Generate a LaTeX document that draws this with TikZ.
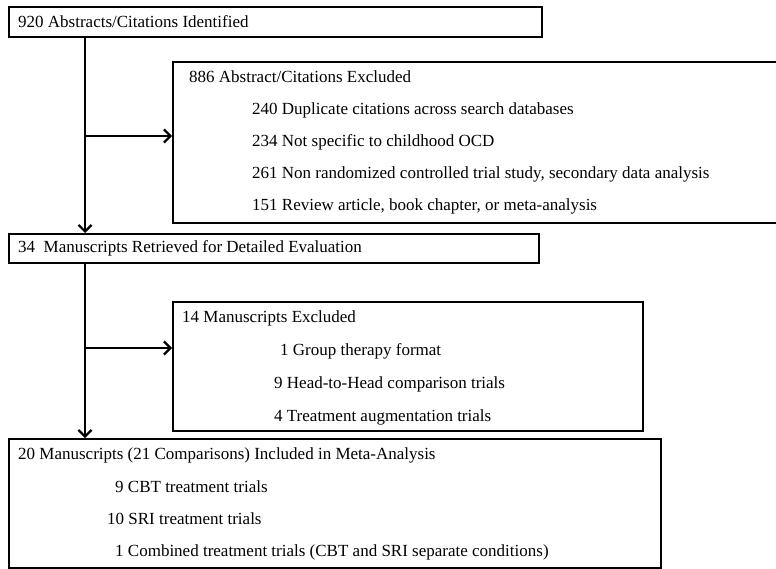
\documentclass[tikz,border=0pt]{standalone}
\usepackage{fontspec}
\setmainfont{Liberation Serif}
\usetikzlibrary{arrows.meta,shadows}
\tikzset{
  flowbox/.style={draw,line width=2pt,fill=white,anchor=north west,inner sep=0pt,
    drop shadow={shadow xshift=1.2pt,shadow yshift=-1.2pt,fill=black!45,opacity=1}},
  flowtext/.style={anchor=base west,inner sep=0pt,font=\fontsize{17}{20}\selectfont},
  flowarrow/.style={line width=2.2pt,-{Straight Barb[length=6.5pt,width=13pt,line width=2.2pt]}}
}
\begin{document}
\begin{tikzpicture}[x=1pt,y=-1pt]
        \useasboundingbox[fill=white] (0,0) rectangle (776,569);
        \clip (0,0) rectangle (776,569);
        %% boxes
        \node[flowbox,minimum width=533pt,minimum height=30pt] (ident) at (8,6) {};
        \node[flowbox,minimum width=620pt,minimum height=161pt] (excl1) at (172,61) {};
        \node[flowbox,minimum width=530pt,minimum height=29pt] (retr) at (8,233) {};
        \node[flowbox,minimum width=470pt,minimum height=129pt] (excl2) at (172,301) {};
        \node[flowbox,minimum width=652pt,minimum height=129pt] (incl) at (8,438) {};
        %% identified
        \node[flowtext] (identtxt) at (18,28) {920 Abstracts/Citations Identified};
        %% first exclusion
        \node[flowtext] (excl1txt) at (189,83) {886 Abstract/Citations Excluded};
        \node[flowtext] (dup) at (252,115) {240 Duplicate citations across search databases};
        \node[flowtext] (notocd) at (252,147) {234 Not specific to childhood OCD};
        \node[flowtext] (nonrct) at (252,179) {261 Non randomized controlled trial study, secondary data analysis};
        \node[flowtext] (review) at (252,211) {151 Review article, book chapter, or meta-analysis};
        %% retrieved
        \node[flowtext] (retrtxt) at (18,253) {34\enspace Manuscripts Retrieved for Detailed Evaluation};
        %% second exclusion
        \node[flowtext] (excl2txt) at (182,322) {14 Manuscripts Excluded};
        \node[flowtext] (group) at (280,355) {1 Group therapy format};
        \node[flowtext] (head) at (274,388) {9 Head-to-Head comparison trials};
        \node[flowtext] (augm) at (274,421) {4 Treatment augmentation trials};
        %% included
        \node[flowtext] (incltxt) at (18,459) {20 Manuscripts (21 Comparisons) Included in Meta-Analysis};
        \node[flowtext] (cbt) at (115,492) {9 CBT treatment trials};
        \node[flowtext] (sri) at (107,524) {10 SRI treatment trials};
        \node[flowtext] (comb) at (115,556) {1 Combined treatment trials (CBT and SRI separate conditions)};
        %% connectors
        \coordinate (split1) at (85,136);
        \coordinate (split2) at (85,348);
        \draw[flowarrow] (ident.south -| split1) -- (retr.north -| split1);
        \draw[flowarrow] (split1) -- (excl1.west |- split1);
        \draw[flowarrow] (retr.south -| split2) -- (incl.north -| split2);
        \draw[flowarrow] (split2) -- (excl2.west |- split2);
\end{tikzpicture}
\end{document}
